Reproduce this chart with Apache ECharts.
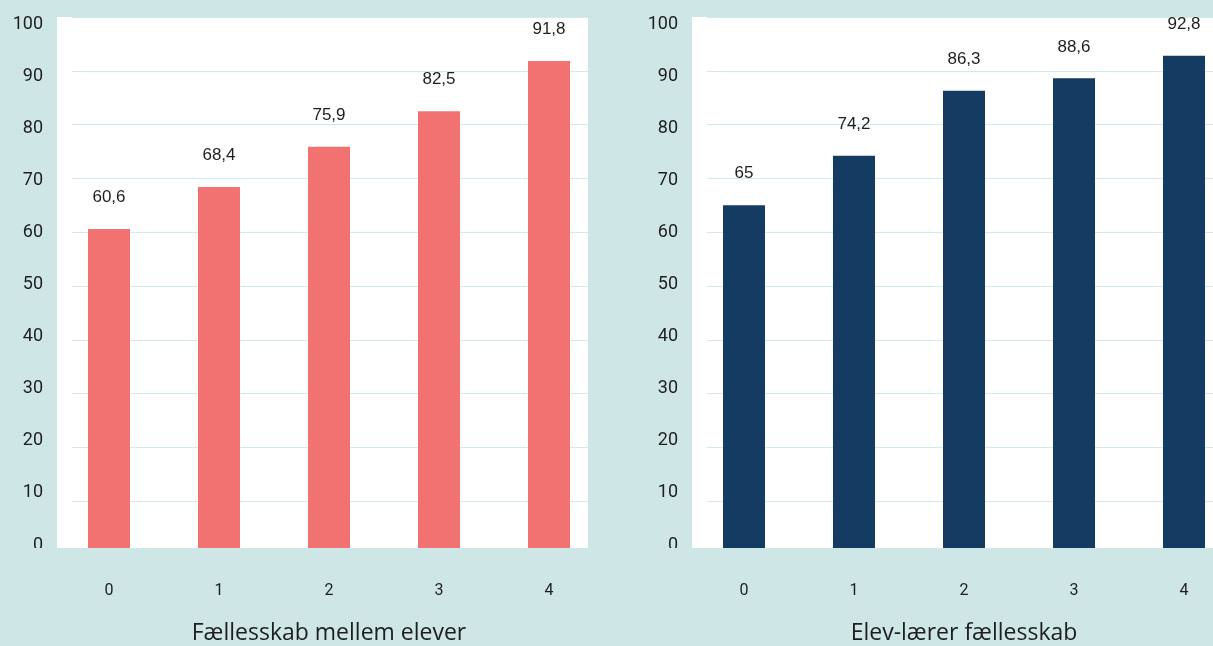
<!DOCTYPE html>
<html>
<head>
<meta charset="utf-8">
<script src="https://cdn.jsdelivr.net/npm/echarts@6/dist/echarts.min.js"></script>
<style>
html,body{margin:0;padding:0;background:#cee7e6;}
#chart{width:1213px;height:646px;}
</style>
</head>
<body>
<div id="chart"></div>
<script>
const categories = ['0', '1', '2', '3', '4'];
const leftValues = [60.6, 68.4, 75.9, 82.5, 91.8];
const rightValues = [65, 74.2, 86.3, 88.6, 92.8];
const yMin = 0, yMax = 100, yStep = 10;
const titles = ['Fællesskab mellem elever', 'Elev-lærer fællesskab'];

const BG = '#cee7e6';
const GRIDLINE = '#d3eaea';
const TEXT = '#1e1e1e';
const tickFont = 'Roboto';
const titleFont = 'Open Sans';
const labelFont = 'Liberation Sans';

const chart = echarts.init(document.getElementById('chart'), null, {renderer: 'canvas'});

const gridBase = {outerBoundsMode: 'none', containLabel: false};
const grids = [
  Object.assign({left: 54, top: 17, width: 550, height: 538}, gridBase),
  Object.assign({left: 72, top: 17, width: 516, height: 538}, gridBase),
  Object.assign({left: 57, top: 24, width: 100, height: 521}, gridBase),
  Object.assign({left: 689, top: 17, width: 550, height: 538}, gridBase),
  Object.assign({left: 707, top: 17, width: 506, height: 538}, gridBase),
  Object.assign({left: 692, top: 24, width: 100, height: 521}, gridBase)
];

const xAxes = [];
const yAxes = [];
[0, 3].forEach((g, i) => {
  xAxes.push({
    type: 'category', gridIndex: g, data: categories,
    axisLine: {show: false}, axisTick: {show: false},
    axisLabel: {fontSize: 16, color: TEXT, margin: 28, fontFamily: tickFont},
    name: titles[i], nameLocation: 'middle', nameGap: 67,
    nameTextStyle: {fontSize: 23, color: TEXT, fontFamily: titleFont}
  });
  yAxes.push({
    type: 'value', gridIndex: g, min: yMin, max: yMax, interval: yStep,
    show: false, splitLine: {show: false}
  });
  xAxes.push({type: 'value', gridIndex: g + 1, show: false});
  yAxes.push({
    type: 'value', gridIndex: g + 1, min: yMin, max: yMax, interval: yStep,
    axisLine: {show: false}, axisTick: {show: false}, axisLabel: {show: false},
    splitLine: {show: true, lineStyle: {color: GRIDLINE, width: 1}}
  });
  xAxes.push({type: 'value', gridIndex: g + 2, show: false});
  yAxes.push({
    type: 'value', gridIndex: g + 2, min: yMin, max: yMax, interval: yStep,
    axisLine: {show: false}, axisTick: {show: false},
    axisLabel: {fontSize: 18, color: TEXT, margin: 14, fontFamily: tickFont},
    splitLine: {show: false}
  });
});

function barSeries(values, xi, yi, color) {
  return {
    type: 'bar', xAxisIndex: xi, yAxisIndex: yi, data: values,
    barWidth: 42, z: 3,
    itemStyle: {color: color},
    label: {
      show: true, position: 'top', distance: 23,
      fontSize: 17, color: TEXT, fontFamily: labelFont,
      formatter: p => String(p.value).replace('.', ',')
    }
  };
}

const option = {
  backgroundColor: BG,
  animation: false,
  grid: grids,
  xAxis: xAxes,
  yAxis: yAxes,
  graphic: [
    {type: 'rect', z: -10, shape: {x: 57, y: 17, width: 531, height: 531}, style: {fill: '#ffffff'}},
    {type: 'rect', z: -10, shape: {x: 692, y: 17, width: 521, height: 531}, style: {fill: '#ffffff'}},
    {type: 'rect', z: 100, shape: {x: 0, y: 548, width: 1213, height: 9}, style: {fill: BG}}
  ],
  series: [
    barSeries(leftValues, 0, 0, '#f27271'),
    barSeries(rightValues, 3, 3, '#143c62')
  ]
};
chart.setOption(option);
</script>
</body>
</html>
